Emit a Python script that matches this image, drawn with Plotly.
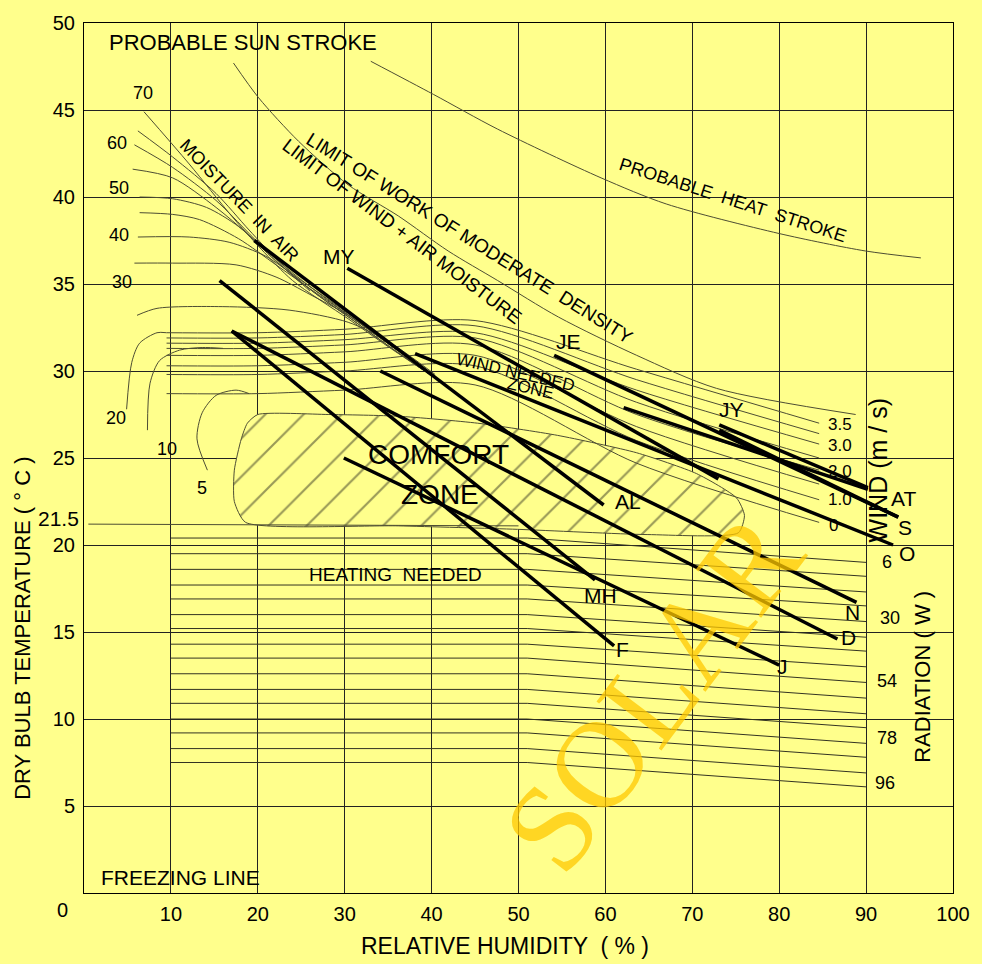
import plotly.graph_objects as go

BG = "#FFFF8C"
FONT = "Liberation Sans, Arial, sans-serif"
THIN = "#4d4d33"
GRID = "#222222"

# ---------------- axes ----------------
X_TICKS = [10, 20, 30, 40, 50, 60, 70, 80, 90, 100]
Y_TICKS = [5, 10, 15, 20, 25, 30, 35, 40, 45, 50]

# ---------------- month lines (RH %, temp C) ----------------
MONTH_RH_START = [30.3, 54.1, 73.1, 62.1, 73.1, 38.1, 34.1, 17.0, 29.9, 17.0, 15.6, 19.6]
MONTH_T_START = [35.9, 30.9, 26.9, 27.9, 26.6, 31.0, 30.0, 32.3, 25.0, 32.3, 35.2, 37.5]
MONTH_RH_END = [73.0, 93.7, 90.2, 90.2, 93.7, 93.1, 88.9, 86.7, 80.0, 61.0, 58.8, 59.8]
MONTH_T_END = [23.8, 21.6, 23.3, 23.2, 21.6, 20.0, 16.7, 14.6, 13.1, 14.2, 18.0, 22.3]

LABEL_NAMES = ["MY", "JE", "JY", "AT", "S", "O", "N", "D", "J", "F", "MH", "AL"]
LABEL_RH = [29.4, 55.7, 74.5, 94.3, 94.5, 94.7, 88.4, 88.0, 80.4, 62.0, 59.4, 62.6]
LABEL_T = [36.6, 31.7, 27.8, 22.7, 21.0, 19.5, 16.1, 14.7, 13.0, 14.0, 17.1, 22.5]

# ---------------- wind lines ----------------
WIND_RH = [9.5, 20, 30, 45, 63.6, 84.6]
WIND_T = [
    [32.2, 32.2, 32.4, 32.9, 30.1, 27.0],
    [31.9, 31.9, 32.1, 32.6, 29.5, 26.4],
    [31.6, 31.6, 31.8, 32.2, 28.9, 25.8],
    [31.3, 31.3, 31.5, 31.9, 28.2, 25.0],
    [30.9, 30.9, 31.1, 31.5, 27.5, 24.3],
    [30.3, 30.3, 30.5, 30.9, 26.8, 23.5],
    [29.8, 29.8, 30.0, 30.3, 26.0, 22.6],
    [28.7, 28.7, 28.9, 29.2, 24.7, 21.3],
]
WIND_LABELS = ["3.5", "3.0", "2.0", "1.0", "0"]
WIND_LABEL_RH = [87.0, 87.0, 87.0, 87.0, 86.3]
WIND_LABEL_T = [26.9, 25.7, 24.2, 22.6, 21.1]

# ---------------- moisture curves ----------------
MOIST_RH = [
    [6.9, 12.1, 17.0, 20.4, 24.0, 30.4, 35.0, 40.4],
    [6.2, 10.2, 15.2, 19.0, 22.4, 26.0, 31.0, 36.0, 40.4],
    [5.8, 10.2, 15.2, 19.0, 22.4, 26.0],
    [5.6, 10.2, 15.2, 19.0, 23.6, 28.0, 33.0, 38.0],
    [6.4, 10.2, 14.1, 17.8, 22.1, 26.0, 31.0, 36.0, 40.4],
    [6.4, 10.2, 13.3, 17.8, 22.1, 25.8, 31.0, 36.0],
    [6.2, 12.1, 16.7, 20.9, 24.7, 29.0, 34.0, 40.4],
    [5.8, 10.2, 17.5, 22.1, 26.0, 30.4, 35.0, 40.4],
    [6.1, 8.4, 15.9, 23.6, 30.4, 35.0, 40.4],
    [4.9, 5.5, 6.4, 8.4, 9.5],
    [7.3, 7.6, 8.7, 11.0, 13.6, 16.0],
    [14.2, 13.0, 13.6, 15.2, 17.5, 19.0],
]
MOIST_T = [
    [44.9, 41.9, 38.9, 37.0, 35.2, 33.0, 31.4, 29.6],
    [43.8, 42.3, 40.2, 38.1, 36.3, 34.7, 32.9, 31.1, 29.6],
    [43.0, 41.7, 39.8, 37.9, 36.2, 34.6],
    [41.6, 41.1, 39.4, 37.8, 35.8, 34.1, 32.3, 30.5],
    [40.0, 39.9, 39.4, 38.3, 36.3, 34.7, 32.9, 31.1, 29.6],
    [39.1, 39.0, 38.7, 37.6, 36.1, 34.8, 33.0, 31.2],
    [37.7, 37.7, 37.4, 36.6, 35.3, 33.8, 32.0, 29.7],
    [36.2, 36.2, 36.1, 35.4, 34.4, 33.2, 31.6, 29.7],
    [33.2, 33.6, 33.7, 33.5, 32.8, 31.7, 29.8],
    [27.8, 30.5, 31.6, 32.2, 32.2],
    [26.6, 29.3, 30.6, 31.2, 31.35, 31.3],
    [24.3, 26.1, 27.6, 28.6, 28.9, 28.7],
]
MOIST_LABELS = ["70", "60", "50", "40", "30", "20", "10", "5"]
MOIST_LABEL_RH = [6.75, 3.8, 4.0, 4.0, 4.4, 3.7, 9.6, 13.6]
MOIST_LABEL_T = [46.0, 43.1, 40.5, 37.8, 35.1, 27.3, 25.5, 23.3]

# ---------------- limit curves ----------------
LIMIT_RH = [17.2, 20.1, 24.7, 30.4, 36.2, 41.9, 47.6, 54.6, 63.6, 72.8, 88.8]
LIMIT_T = [47.7, 45.7, 43.2, 40.7, 38.9, 36.9, 35.2, 33.1, 30.9, 29.0, 27.5]
HEAT_RH = [33.0, 40.2, 47.6, 59.5, 67.0, 80.0, 89.9, 96.3]
HEAT_T = [47.8, 45.9, 43.9, 41.1, 39.6, 37.9, 36.9, 36.5]

# ---------------- comfort zone ----------------
COMFORT_RH = [20.0, 28.1, 36.2, 45.3, 54.5, 63.6, 70.5, 75.1, 76.0, 75.3, 64.8,
              49.9, 36.2, 18.6, 17.3, 17.3, 18.1, 18.8, 20.0]
COMFORT_T = [27.5, 27.5, 27.4, 27.0, 26.3, 25.3, 24.1, 22.7, 21.7, 20.7, 20.6,
             20.9, 21.1, 21.3, 22.5, 24.3, 26.1, 27.0, 27.5]
BASE_RH = [0.5, 50.0]
BASE_T = [21.2, 21.1]

# ---------------- radiation lines ----------------
RAD_RH = [10, 51, 90]
RAD_T_LEFT = [20.4, 19.5, 18.6, 17.7, 16.9, 16.0, 15.2, 14.3, 13.5, 12.6, 11.7,
              10.9, 10.0, 9.2, 8.3, 7.5]
RAD_T_RIGHT = [19.0, 18.2, 17.3, 16.5, 15.6, 14.7, 13.9, 13.0, 12.1, 11.2, 10.3,
               9.5, 8.6, 7.8, 6.9, 6.1]
RAD_LABELS = ["6", "30", "54", "78", "96"]
RAD_LABEL_RH = [92.4, 92.7, 92.4, 92.4, 92.2]
RAD_LABEL_T = [19.0, 15.8, 12.2, 8.9, 6.3]

fig = go.Figure()

# comfort zone (hatched)
fig.add_trace(go.Scatter(
    x=COMFORT_RH, y=COMFORT_T, mode="lines", fill="toself",
    fillpattern=dict(shape="/", size=27, solidity=0.08, fgcolor="#333322", bgcolor=BG),
    line=dict(color=THIN, width=1, shape="spline", smoothing=0.6),
    hoverinfo="skip", showlegend=False))
fig.add_trace(go.Scatter(x=BASE_RH, y=BASE_T, mode="lines",
                         line=dict(color=THIN, width=1), hoverinfo="skip", showlegend=False))

# radiation lines
for tl, tr in zip(RAD_T_LEFT, RAD_T_RIGHT):
    fig.add_trace(go.Scatter(x=RAD_RH, y=[tl, tl, tr], mode="lines",
                             line=dict(color="#333322", width=1),
                             hoverinfo="skip", showlegend=False))

# wind lines
for ts in WIND_T:
    fig.add_trace(go.Scatter(x=WIND_RH, y=ts, mode="lines",
                             line=dict(color=THIN, width=1, shape="spline", smoothing=0.8),
                             hoverinfo="skip", showlegend=False))

# moisture curves
for xs, ys in zip(MOIST_RH, MOIST_T):
    fig.add_trace(go.Scatter(x=xs, y=ys, mode="lines",
                             line=dict(color=THIN, width=1, shape="spline", smoothing=0.8),
                             hoverinfo="skip", showlegend=False))

# limit / heat stroke
fig.add_trace(go.Scatter(x=LIMIT_RH, y=LIMIT_T, mode="lines",
                         line=dict(color=THIN, width=1, shape="spline", smoothing=0.8),
                         hoverinfo="skip", showlegend=False))
fig.add_trace(go.Scatter(x=HEAT_RH, y=HEAT_T, mode="lines",
                         line=dict(color=THIN, width=1, shape="spline", smoothing=0.8),
                         hoverinfo="skip", showlegend=False))

# month lines
for x0, y0, x1, y1 in zip(MONTH_RH_START, MONTH_T_START, MONTH_RH_END, MONTH_T_END):
    fig.add_trace(go.Scatter(x=[x0, x1], y=[y0, y1], mode="lines",
                             line=dict(color="black", width=3.5),
                             hoverinfo="skip", showlegend=False))

ann = []


def txt(t, x, y, size, angle=0, xanchor="center", color="black", family=FONT, ref="data"):
    xr, yr = ("x", "y") if ref == "data" else ("paper", "paper")
    ann.append(dict(text=t, x=x, y=y, xref=xr, yref=yr, showarrow=False,
                    textangle=angle, xanchor=xanchor, yanchor="middle",
                    font=dict(size=size, color=color, family=family)))


# watermark
txt("SOLAR", 65.5, 11.5, 124, -53, color="rgba(255,200,0,0.75)",
    family="Liberation Serif, Times New Roman, serif")

for t, x, y in zip(LABEL_NAMES, LABEL_RH, LABEL_T):
    txt(t, x, y, 21)
for t, x, y in zip(WIND_LABELS, WIND_LABEL_RH, WIND_LABEL_T):
    txt(t, x, y, 17)
for t, x, y in zip(MOIST_LABELS, MOIST_LABEL_RH, MOIST_LABEL_T):
    txt(t, x, y, 18)
for t, x, y in zip(RAD_LABELS, RAD_LABEL_RH, RAD_LABEL_T):
    txt(t, x, y, 18)

txt("PROBABLE SUN STROKE", 18.3, 48.9, 22)
txt("PROBABLE  HEAT  STROKE", 74.6, 39.8, 18, 18)
txt("LIMIT OF WORK OF MODERATE  DENSITY", 44.4, 37.6, 19, 32)
txt("LIMIT OF WIND + AIR MOISTURE", 36.6, 38.0, 19, 37)
txt("MOISTURE  IN  AIR", 17.8, 39.8, 18, 46)
txt("WIND NEEDED", 49.7, 29.9, 17, 13)
txt("ZONE", 51.4, 29.0, 17, 13)
txt("COMFORT", 40.8, 25.2, 28)
txt("ZONE", 41.0, 22.9, 28)
txt("HEATING  NEEDED", 35.8, 18.3, 19)
txt("FREEZING LINE", 11.1, 0.9, 21)
txt("WIND (m / s)", 91.4, 24.3, 25, -90)
txt("RADIATION ( W )", 96.5, 12.4, 22, -90)
# texts outside the plotting area (paper coordinates)
txt("DRY BULB TEMPERATURE ( ° C )", -0.071, 0.304, 22, -90, ref="paper")
txt("RELATIVE HUMIDITY  ( % )", 0.484, -0.061, 23, ref="paper")
txt("0", -0.025, -0.019, 20, ref="paper")
txt("21.5", -0.003, 0.43, 21, xanchor="right", ref="paper")

fig.update_layout(
    width=982, height=964,
    margin=dict(l=84, r=24, t=18, b=71),
    paper_bgcolor=BG, plot_bgcolor=BG,
    showlegend=False,
    annotations=ann,
    font=dict(family=FONT, color="black"),
)
fig.update_xaxes(range=[0, 100], tickvals=X_TICKS, showgrid=True, gridcolor=GRID, gridwidth=1,
                 showline=True, linecolor="black", linewidth=1, mirror=True, zeroline=False,
                 ticks="outside", ticklen=3, tickcolor=BG, tickfont=dict(size=20, family=FONT))
fig.update_yaxes(range=[0, 50], tickvals=Y_TICKS, showgrid=True, gridcolor=GRID, gridwidth=1,
                 showline=True, linecolor="black", linewidth=1, mirror=True, zeroline=False,
                 ticks="outside", ticklen=4, tickcolor=BG, tickfont=dict(size=20, family=FONT))

fig.write_html("out.html", config={"displayModeBar": False},
               post_script="document.body.style.margin='0';document.body.style.background='#FFFF8C';")
